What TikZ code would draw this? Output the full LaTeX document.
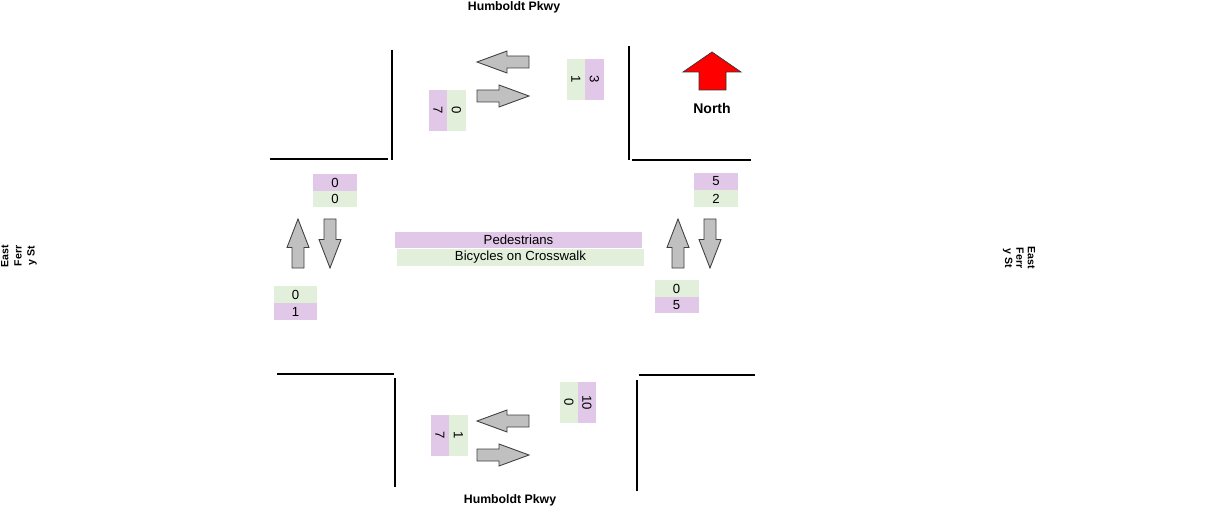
\documentclass[tikz,border=0pt]{standalone}
\usepackage{fontspec}
\setmainfont{Liberation Sans}
\usetikzlibrary{positioning}

\definecolor{pedpurple}{RGB}{225,200,232}
\definecolor{bikegreen}{RGB}{226,239,218}
\definecolor{flowgray}{RGB}{192,192,192}

% block arrow: centre x, centre y, direction, half length
\newcommand{\flowarrow}[4]{%
  \draw[flow, shift={(#1,#2)}, rotate=#3]
    (-#4,-6) -- (-4,-6) -- (-4,-11) -- (#4,0) -- (-4,11) -- (-4,6) -- (-#4,6) -- cycle;}

\begin{document}
\begin{tikzpicture}[x=0.02cm, y=-0.02cm,
    curb/.style={line width=1.1pt, black},
    flow/.style={draw=black!75, fill=flowgray, line width=0.5pt},
    count/.style={inner sep=0pt, minimum width=0.88cm, minimum height=0.34cm, font=\fontsize{7.5}{8}\selectfont},
    ped/.style={count, fill=pedpurple},
    bike/.style={count, fill=bikegreen},
    vped/.style={ped, rotate=-90, minimum width=0.82cm, minimum height=0.37cm},
    vbike/.style={bike, rotate=-90, minimum width=0.82cm, minimum height=0.37cm},
    street/.style={font=\bfseries\fontsize{7}{8}\selectfont, inner sep=0pt}
]
\useasboundingbox (0,0) rectangle (1225,517);

% curbs
\draw[curb] (392,50) -- (392,160);
\draw[curb] (270,159) -- (388,159);
\draw[curb] (629,46) -- (629,160);
\draw[curb] (632,160) -- (751,160);
\draw[curb] (277,374) -- (394,374);
\draw[curb] (395,378) -- (395,487);
\draw[curb] (639,375) -- (755,375);
\draw[curb] (637,380) -- (637,491);

% street names
\node[street] (hnorth) at (514,7) {Humboldt Pkwy};
\node[street] (hsouth) at (510,500) {Humboldt Pkwy};
\node[street, rotate=90, align=center, font=\bfseries\fontsize{6}{7.5}\selectfont] (ewest) at (19,256) {East\\Ferr\\y St};
\node[street, rotate=-90, align=center, font=\bfseries\fontsize{6}{6.5}\selectfont] (eeast) at (1019,258) {East\\Ferr\\y St};

% north arrow
\draw[fill=red, draw=black!80, line width=0.4pt]
  (712,52) -- (741,72) -- (726,72) -- (726,90) -- (699,90) -- (699,72) -- (683,72) -- cycle;
\node[street, font=\bfseries\fontsize{8}{9}\selectfont] (north) at (712,108) {North};

% flow arrows
\flowarrow{503}{62}{180}{26}
\flowarrow{503}{96}{0}{26}
\flowarrow{503}{421}{180}{26}
\flowarrow{503}{455}{0}{26}
\flowarrow{298}{243.5}{90}{24.5}
\flowarrow{330}{243.5}{270}{24.5}
\flowarrow{678}{243.5}{90}{24.5}
\flowarrow{710}{243.5}{270}{24.5}

% legend
\node[ped, minimum width=4.94cm, minimum height=0.32cm] (legped) at (518.5,240) {Pedestrians};
\node[bike, minimum width=4.94cm] (legbike) at (520.5,257.5) {Bicycles on Crosswalk};

% west leg
\node[ped] (wped1) at (335,182.5) {0};
\node[bike] (wbike1) at (335,199) {0};
\node[bike] (wbike2) at (295.5,294.5) {0};
\node[ped] (wped2) at (295.5,311.5) {1};

% east leg
\node[ped] (eped1) at (716,181.5) {5};
\node[bike] (ebike1) at (716,198.5) {2};
\node[bike] (ebike2) at (676.5,288.5) {0};
\node[ped] (eped2) at (676.5,305) {5};

% north leg
\node[vped] (nped1) at (438,110.5) {7};
\node[vbike] (nbike1) at (456.5,110.5) {0};
\node[vbike] (nbike2) at (576,79.5) {1};
\node[vped] (nped2) at (594.5,79.5) {3};

% south leg
\node[vped] (sped1) at (440,435.5) {7};
\node[vbike] (sbike1) at (458.5,435.5) {1};
\node[vbike] (sbike2) at (569,402.5) {0};
\node[vped] (sped2) at (587,402.5) {10};
\end{tikzpicture}
\end{document}
